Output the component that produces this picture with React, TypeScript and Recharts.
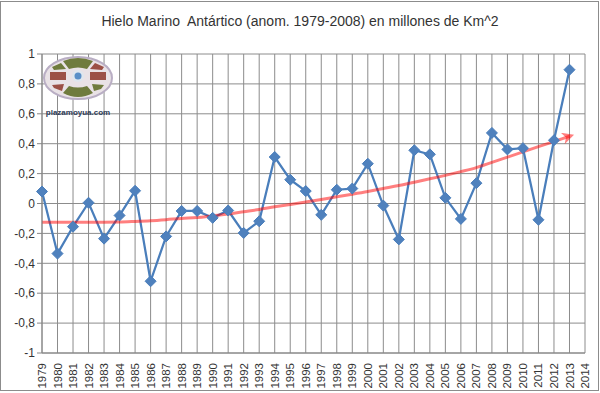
import { LineChart, Line, XAxis, YAxis, CartesianGrid } from "recharts";

const years = [
  1979, 1980, 1981, 1982, 1983, 1984, 1985, 1986, 1987, 1988, 1989, 1990,
  1991, 1992, 1993, 1994, 1995, 1996, 1997, 1998, 1999, 2000, 2001, 2002,
  2003, 2004, 2005, 2006, 2007, 2008, 2009, 2010, 2011, 2012, 2013, 2014,
];

// anomalia anual (millones de km^2), 2014 sin dato
const anomaly = [
  0.08, -0.335, -0.155, 0.005, -0.235, -0.08, 0.085, -0.52, -0.22, -0.05,
  -0.05, -0.096, -0.047, -0.197, -0.119, 0.311, 0.159, 0.083, -0.076, 0.092,
  0.1, 0.266, -0.014, -0.24, 0.356, 0.329, 0.038, -0.103, 0.136, 0.472,
  0.362, 0.37, -0.109, 0.423, 0.895, null,
];

// curva de tendencia (flecha roja)
const trend = [
  -0.125, -0.125, -0.125, -0.125, -0.125, -0.124, -0.12, -0.115, -0.108,
  -0.1, -0.094, -0.082, -0.07, -0.055, -0.04, -0.022, -0.006, 0.01, 0.027,
  0.045, 0.062, 0.08, 0.1, 0.12, 0.142, 0.165, 0.188, 0.213, 0.24, 0.275,
  0.31, 0.345, 0.38, 0.415, 0.45, null,
];

const yTicks = [-1, -0.8, -0.6, -0.4, -0.2, 0, 0.2, 0.4, 0.6, 0.8, 1];

const data = years.map((year, i) => ({
  year,
  anomaly: anomaly[i],
  trend: trend[i],
}));

const fmt = (v: number) =>
  Number.isInteger(v) ? String(v) : v.toFixed(1).replace(".", ",");

const Diamond = (props: any) => {
  const { cx, cy, index } = props;
  if (cx == null || cy == null) return <g key={`d${index}`} />;
  const r = 5.5;
  return (
    <polygon
      key={`d${index}`}
      points={`${cx},${cy - r} ${cx + r},${cy} ${cx},${cy + r} ${cx - r},${cy}`}
      fill="#4F81BD"
      stroke="#4A7EBB"
      strokeWidth={1}
    />
  );
};

const YearTick = (props: any) => {
  const { x, y, payload } = props;
  return (
    <text
      x={x}
      y={y}
      transform={`rotate(-90, ${x}, ${y})`}
      textAnchor="end"
      dy="0.35em"
      fontSize={11.5}
      fontFamily="Liberation Sans, Arial, sans-serif"
      fill="#333"
    >
      {payload.value}
    </text>
  );
};

const Logo = () => (
  <svg
    width={72}
    height={66}
    style={{ position: "absolute", left: 43, top: 55 }}
  >
    <ellipse cx={35} cy={23} rx={34} ry={21} fill="#e9e2e6" stroke="#b9aec4" strokeWidth={2} />
    <path d="M20,6 Q35,0 50,6 L44,14 Q35,11 26,14 Z" fill="#6f7b3d" />
    <path d="M20,38 Q35,46 50,38 L44,31 Q35,34 26,31 Z" fill="#6f7b3d" />
    <path d="M7,17 L23,17 L23,25 L7,25 Z" fill="#9c5046" />
    <path d="M47,17 L63,17 L63,25 L47,25 Z" fill="#9c5046" />
    <path d="M9,12 L18,8 L23,14 L11,15 Z" fill="#6f7b3d" />
    <path d="M52,8 L61,12 L59,15 L47,14 Z" fill="#9c5046" />
    <path d="M9,30 L21,29 L19,36 L11,33 Z" fill="#9c5046" />
    <path d="M49,29 L61,30 L58,34 L51,36 Z" fill="#6f7b3d" />
    <circle cx={35} cy={21} r={6} fill="#dfe6ee" />
    <circle cx={35} cy={21} r={3.5} fill="#5b8fc7" />
    <text
      x={35}
      y={60}
      textAnchor="middle"
      fontSize={8}
      fontWeight="bold"
      fontFamily="Liberation Sans, Arial, sans-serif"
      fill="#2d3b57"
    >
      plazamoyua.com
    </text>
  </svg>
);

export default function App() {
  return (
    <div
      style={{
        position: "absolute",
        left: 0,
        top: 0,
        width: 600,
        height: 393,
        background: "#fff",
      }}
    >
      <svg width={0} height={0} style={{ position: "absolute" }}>
        <defs>
          <marker
            id="trendArrow"
            viewBox="0 0 10 10"
            refX={6}
            refY={5}
            markerWidth={4.5}
            markerHeight={4}
            orient="auto"
            markerUnits="strokeWidth"
          >
            <path d="M0,0 L10,5 L0,10 L3,5 Z" fill="#ff0000" fillOpacity={0.5} />
          </marker>
        </defs>
      </svg>
      <LineChart
        width={600}
        height={393}
        data={data}
        margin={{ top: 54, right: 15, bottom: 0, left: 0 }}
      >
        <rect x={0.5} y={1.5} width={598} height={389} fill="none" stroke="#8c8c8c" />
        <text
          x={300}
          y={26}
          textAnchor="middle"
          fontSize={14}
          fontFamily="Liberation Sans, Arial, sans-serif"
          fill="#333"
          style={{ whiteSpace: "pre" }}
        >
          {"Hielo Marino  Antártico (anom. 1979-2008) en millones de Km^2"}
        </text>
        <CartesianGrid stroke="#8c8c8c" strokeWidth={1} />
        <XAxis
          dataKey="year"
          interval={0}
          tickLine={false}
          axisLine={{ stroke: "#868686" }}
          height={40}
          tickMargin={4}
          tick={<YearTick />}
        />
        <YAxis
          domain={[-1, 1]}
          ticks={yTicks}
          width={42}
          tickFormatter={fmt}
          tickSize={5}
          tickMargin={2}
          axisLine={{ stroke: "#868686" }}
          tickLine={{ stroke: "#868686" }}
          tick={{
            fontSize: 12,
            fill: "#333",
            fontFamily: "Liberation Sans, Arial, sans-serif",
          }}
        />
        <Line
          dataKey="anomaly"
          stroke="#4A7EBB"
          strokeWidth={2.25}
          dot={<Diamond />}
          activeDot={false}
          isAnimationActive={false}
        />
        <Line
          dataKey="trend"
          type="monotone"
          stroke="#ff0000"
          strokeOpacity={0.5}
          strokeWidth={3}
          dot={false}
          activeDot={false}
          markerEnd="url(#trendArrow)"
          isAnimationActive={false}
        />
      </LineChart>
      <Logo />
    </div>
  );
}
